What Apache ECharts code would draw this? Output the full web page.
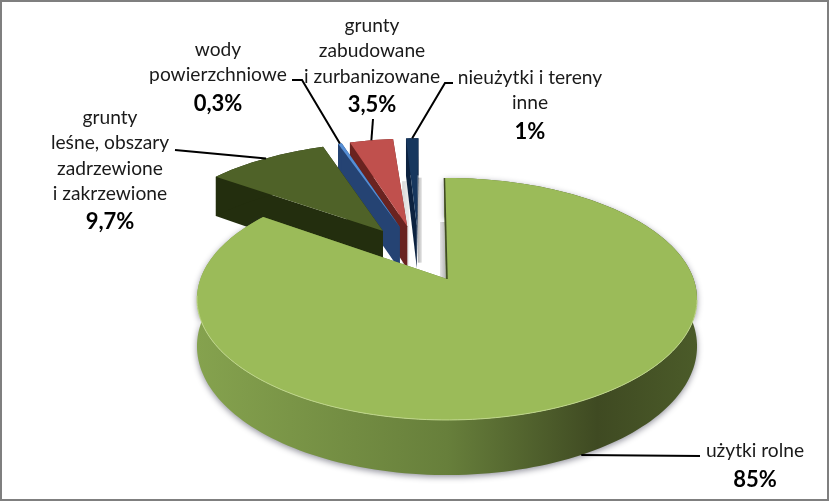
<!DOCTYPE html>
<html><head><meta charset="utf-8">
<script src="https://cdn.jsdelivr.net/npm/echarts@6/dist/echarts.min.js"></script>
<style>html,body{margin:0;padding:0;background:#fff}#c{width:829px;height:501px}</style>
</head><body><div id="c"></div>
<script>
// ---- data ----
const sliceNames = ['użytki rolne','grunty\nleśne, obszary\nzadrzewione\ni zakrzewione','wody\npowierzchniowe','grunty\nzabudowane\ni zurbanizowane','nieużytki i tereny\ninne'];
const sliceValues = [85, 9.7, 0.3, 3.5, 1];
const percentLabels = ['85%','9,7%','0,3%','3,5%','1%'];

// ---- styles and layout ----
const topColors = ['#9BBB59','#4F6228','#558ED5','#C0504D','#17375E'];
const wallColors = ['#66803A','#232E0E','#254373','#6A2320','#0C2240'];
const labelCenters = [[755,451],[110,118],[218,50],[372,26],[530,78]];
const leaderElbows = [[[700,456]],[[175,150]],[[302,80],[292,80]],[[373,119]],[[445,83],[453,83]]];
const angleShift = [0,0,0,0.5,1.8];
const lineGap = 25.2, pctGap = 28.5;
const view = {X0:447, Y0:279, A:246.6, B:117.7, C:46, p:0.165, explode:0.26, startDeg:-0.7};
const shadeStrips = {
  0:[-7,0,-57,0,'#E6E6E6','#A8A8A8'],
  3:[-5,2,-45,40,'#D8D8D8','#EDEDED'],
  4:[1,5,-48,37,'#B4B4B4','#E4E4E4']
};

const rad = d => d*Math.PI/180;
const dir = d => [Math.sin(rad(d)), -Math.cos(rad(d))];
const spans = []; 
sliceValues.reduce((acc,v,i)=>{const s=acc, e=acc+v/100*360; spans.push([s+angleShift[i],e+angleShift[i]]); return e;}, view.startDeg);
const mid = s => (s[0]+s[1])/2;
const md = dir(mid(spans[0]));
const centre = [-view.explode*md[0], -view.explode*md[1]];
function apex(i){const d=dir(mid(spans[i]));return [centre[0]+view.explode*d[0],centre[1]+view.explode*d[1]];}
function proj(u,v,z){const w=1-view.p*v;return [view.X0+view.A*u/w, view.Y0+(view.B*v+view.C*z)/w];}
function rim(i,deg,z){const a=apex(i),d=dir(deg);return proj(a[0]+d[0],a[1]+d[1],z);}
function arc(i,from,to,z){const n=Math.max(2,Math.ceil(Math.abs(to-from)/1.5));const pts=[];for(let k=0;k<=n;k++)pts.push(rim(i,from+(to-from)*k/n,z));return pts;}

function renderShade(params, api){
  const i = api.value(1), st = shadeStrips[i];
  if(!st) return {type:'group',children:[]};
  const a = apex(i), t0 = proj(a[0],a[1],0);
  return {type:'rect',silent:true,shape:{x:t0[0]+st[0],y:t0[1]+st[2],width:st[1]-st[0],height:st[3]-st[2]},
    style:{fill:{type:'linear',x:0,y:0,x2:1,y2:0,colorStops:[{offset:0,color:st[4]},{offset:1,color:st[5]}]}}};
}
function renderSlice(params, api){
  const i = api.value(1), s = spans[i], a = apex(i);
  const t0 = proj(a[0],a[1],0), b0 = proj(a[0],a[1],1);
  const top = arc(i,s[0],s[1],0), bot = arc(i,s[0],s[1],1);
  const kids = [];
  const poly = (points,style)=>kids.push({type:'polygon',shape:{points},style,silent:true});
  const wall = wallColors[i];
  poly([t0,top[top.length-1],bot[bot.length-1],b0],{fill:wall});
  poly([t0,top[0],bot[0],b0],{fill:wall});
  if(i===0){
    poly(top.concat(bot.slice().reverse()),{
      fill:{type:'linear',x:198,y:0,x2:697,y2:0,global:true,colorStops:[
        {offset:0,color:'#85A24E'},{offset:.5,color:'#677F3B'},{offset:.8,color:'#3F4A22'},{offset:1,color:'#4B5B29'}]},
      shadowColor:'rgba(40,40,60,.5)',shadowBlur:6,shadowOffsetY:2});
  } else {
    poly(top.concat(bot.slice().reverse()),{fill:wall});
  }
  poly([t0].concat(top),{fill:topColors[i]});
  if(i===0){
    kids.push({type:'polyline',shape:{points:arc(0,100,262,0)},style:{stroke:'#BFD68A',lineWidth:1,fill:null},silent:true});
    kids.push({type:'polyline',shape:{points:[top[0],t0]},style:{stroke:'#3F4A22',lineWidth:1.5,fill:null},silent:true});
  }
  return {type:'group',children:kids};
}
function renderNote(params, api){
  const i = api.value(1), kids=[];
  const z = i===0?1:0;
  const pts = [rim(i,mid(spans[i]),z)].concat(leaderElbows[i]);
  kids.push({type:'polyline',shape:{points:pts},style:{stroke:'#000',lineWidth:2,fill:null},silent:true});
  const lines = sliceNames[i].split('\n'), c = labelCenters[i];
  lines.forEach((t,k)=>kids.push({type:'text',silent:true,style:{text:t,x:c[0],y:c[1]+k*lineGap,align:'center',verticalAlign:'middle',font:'19.2px Lato',fill:'#1a1a1a'}}));
  kids.push({type:'text',silent:true,style:{text:percentLabels[i],x:c[0],y:c[1]+(lines.length-1)*lineGap+pctGap,align:'center',verticalAlign:'middle',font:'bold 22px Lato',fill:'#000'}});
  return {type:'group',children:kids};
}
const order = [4,3,2,1,0];
const rows = order.map(i=>[sliceValues[i],i]);
const chart = echarts.init(document.getElementById('c'),null,{renderer:'canvas'});
chart.setOption({
  animation:false, backgroundColor:'#fff',
  graphic:[{type:'rect',z:100,silent:true,shape:{x:1,y:1,width:827,height:499},style:{fill:null,stroke:'#7F7F7F',lineWidth:2}}],
  series:[
    {type:'custom',coordinateSystem:'none',renderItem:renderShade,data:rows,z:1},
    {type:'custom',coordinateSystem:'none',renderItem:renderSlice,data:rows,z:2},
    {type:'custom',coordinateSystem:'none',renderItem:renderNote,data:rows,z:3}
  ]
});
</script></body></html>
